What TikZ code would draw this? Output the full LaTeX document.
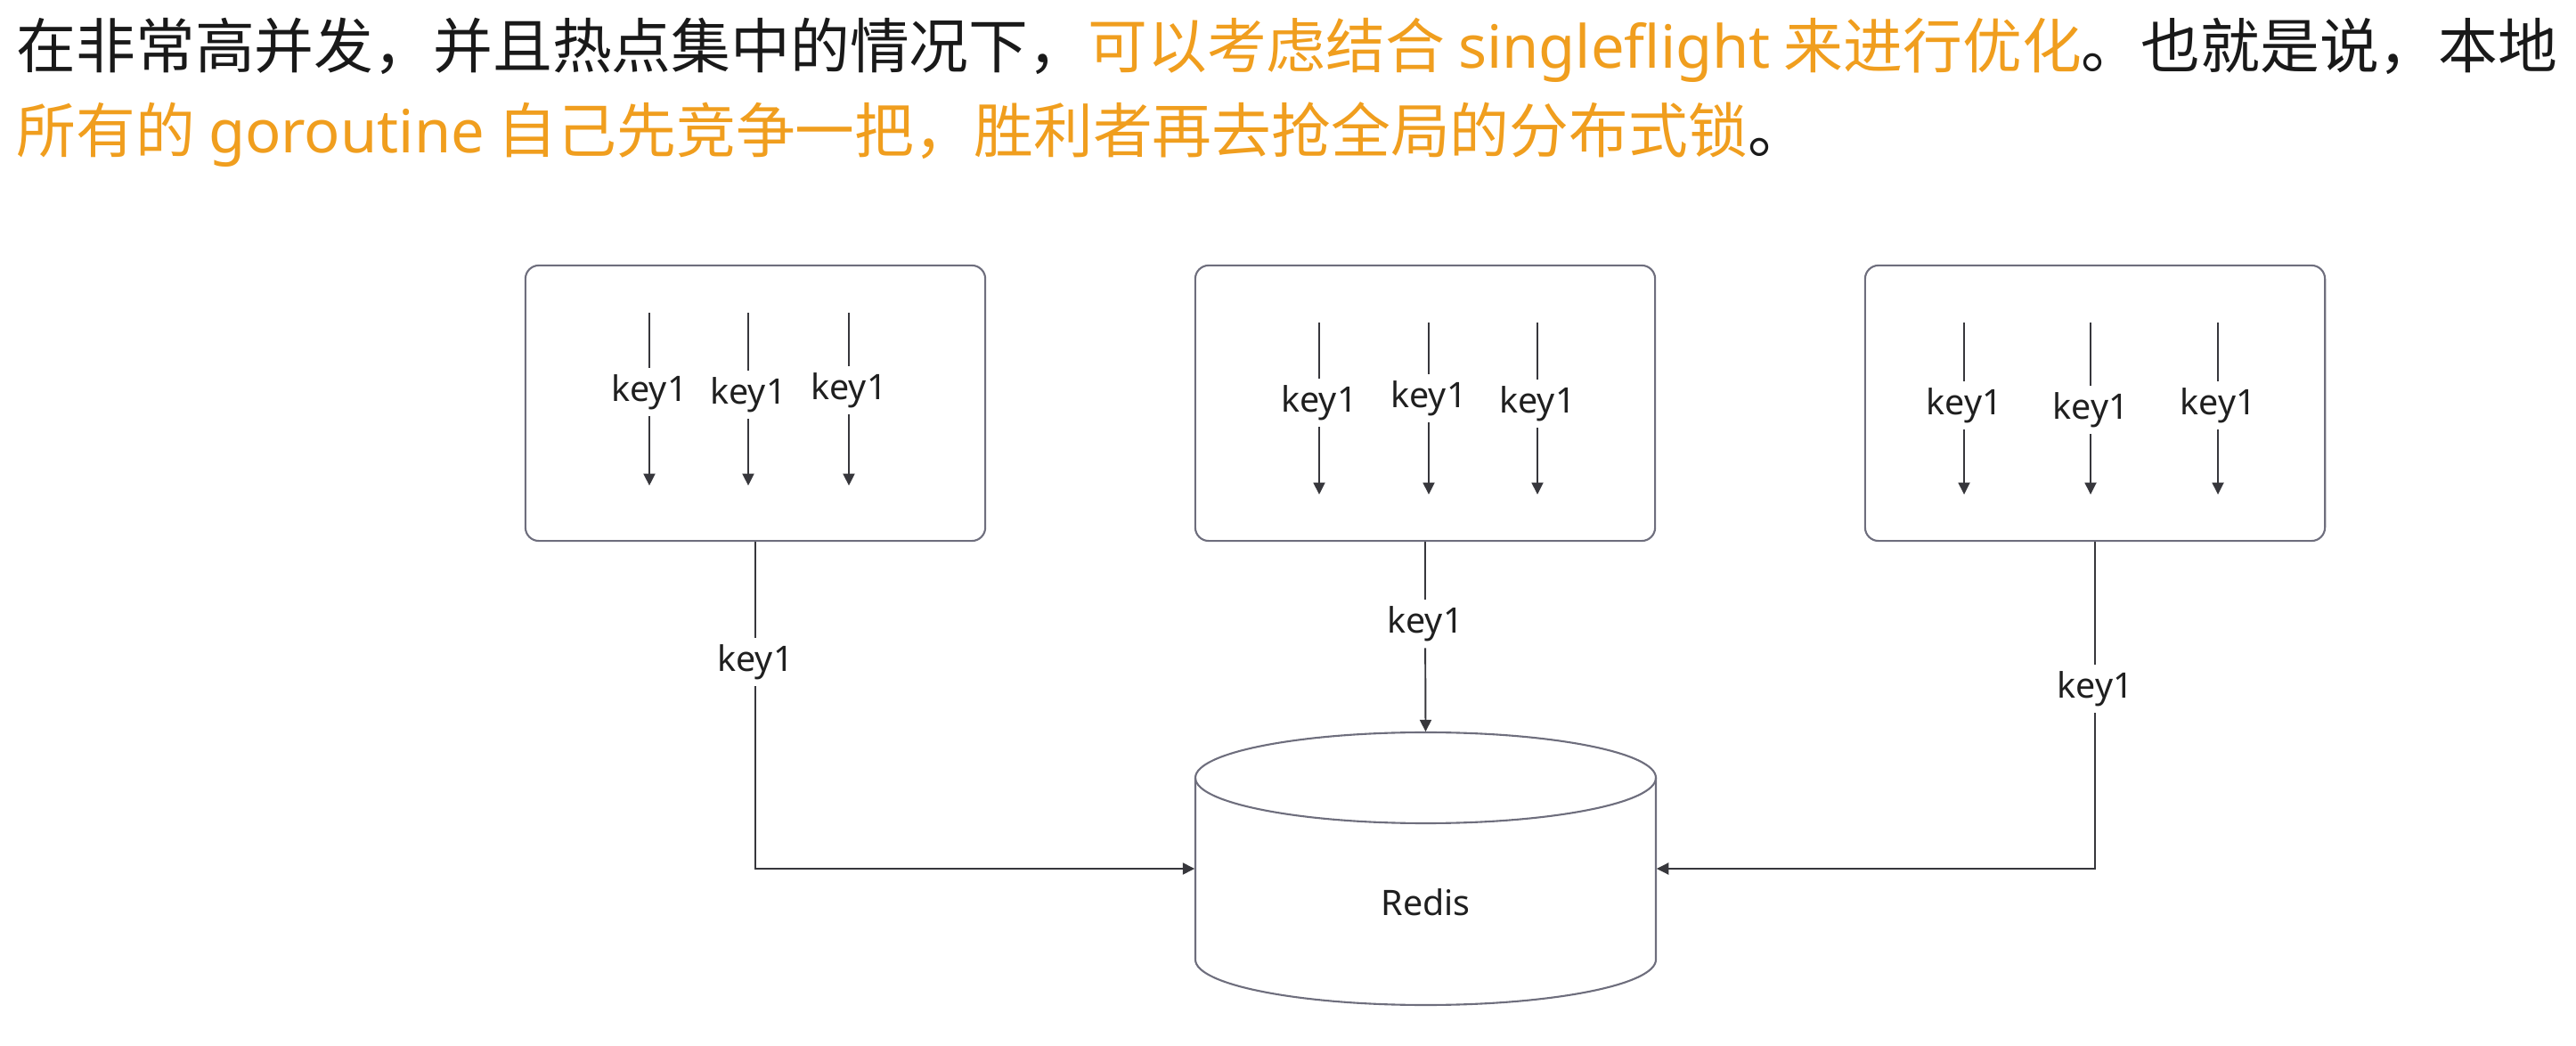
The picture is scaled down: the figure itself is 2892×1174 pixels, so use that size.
\documentclass[tikz,border=0pt]{standalone}
\usepackage{fontspec}
\newfontfamily\cjkfont{Noto Sans CJK SC}
\newfontfamily\latinfont{Noto Sans}
\usetikzlibrary{arrows.meta}
\definecolor{hlorange}{RGB}{240,158,30}
\definecolor{boxgray}{RGB}{110,110,125}
\definecolor{linegray}{RGB}{55,55,60}

\begin{document}
\begin{tikzpicture}[x=0.01cm, y=-0.01cm,
    groupbox/.style={draw=boxgray, line width=0.6pt, rounded corners=4.3pt,
        minimum width=5.16cm, minimum height=3.09cm, inner sep=0pt},
    keylabel/.style={font=\latinfont\fontsize{11.2pt}{13pt}\selectfont, inner sep=2pt, text=black!88},
    link/.style={draw=linegray, line width=0.55pt},
    arrowlink/.style={-{Triangle[width=3.7pt, length=3.8pt]}}]
    \useasboundingbox (0,0) rectangle (2892,1174);

    % Header
    \node[anchor=base west, inner sep=0pt, text=black!90,
        font=\cjkfont\fontsize{19pt}{24pt}\selectfont] (line1) at (18,77)
        {在非常高并发，并且热点集中的情况下，\textcolor{hlorange}{可以考虑结合 {\latinfont singleflight} 来进行优化}。也就是说，本地};
    \node[anchor=base west, inner sep=0pt, text=black!90,
        font=\cjkfont\fontsize{19pt}{24pt}\selectfont] (line2) at (18,172)
        {\textcolor{hlorange}{所有的 {\latinfont goroutine} 自己先竞争一把，胜利者再去抢全局的分布式锁}。};

    % Local groups
    \node[groupbox] (g1) at (848,452.5) {};
    \node[groupbox] (g2) at (1600,452.5) {};
    \node[groupbox] (g3) at (2352,452.5) {};

    % goroutines inside each group
    \foreach \n/\x/\ly/\ty/\by in {a1/729/440/351/545, a2/840/443/351/545, a3/953/438/351/545,
            b1/1481/452/362/555, b2/1604/447/362/555, b3/1726/453/362/555,
            c1/2205/455/362/555, c2/2347/460/362/555, c3/2490/455/362/555} {
        \coordinate (\n top) at (\x,\ty);
        \coordinate (\n end) at (\x,\by);
        \node[keylabel] (\n) at (\x,\ly) {key1};
        \draw[link] (\n top) -- (\n);
        \draw[link, arrowlink] (\n) -- (\n end);
    }

    % Redis
    \node[minimum width=5.17cm, minimum height=3.06cm, inner sep=0pt] (redis) at (1600.5,975) {};
    \draw[boxgray, line width=0.6pt] (1600.5,873) ellipse[x radius=258.5, y radius=51];
    \draw[boxgray, line width=0.6pt] (1342,873) -- (1342,1077)
        arc[start angle=180, end angle=0, x radius=258.5, y radius=51] -- (1859,873);
    \node[keylabel] (redistext) at (1600.5,1013) {Redis};

    % Winners to Redis
    \node[keylabel] (k1) at (848,743) {key1};
    \node[keylabel] (k2) at (1600,700) {key1};
    \node[keylabel] (k3) at (2352,773) {key1};
    \coordinate (bend1) at (848,975);
    \coordinate (bend3) at (2352,975);
    \draw[link] (g1.south) -- (k1);
    \draw[link, arrowlink] (k1) -- (bend1) -- (redis.west);
    \draw[link] (g2.south) -- (k2);
    \draw[link, arrowlink] (k2) -- (redis.north);
    \draw[link] (g3.south) -- (k3);
    \draw[link, arrowlink] (k3) -- (bend3) -- (redis.east);
\end{tikzpicture}
\end{document}
